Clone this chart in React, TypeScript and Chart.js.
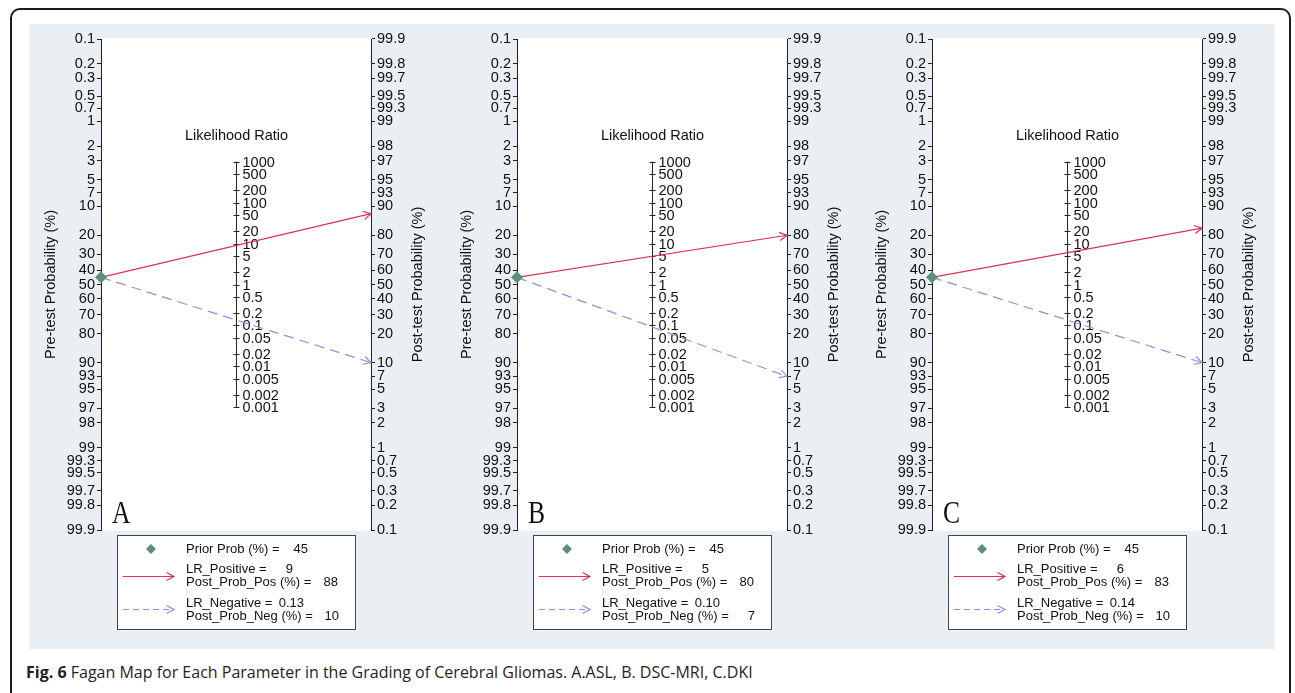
import React, { useEffect, useRef } from "react";
import { Chart, registerables } from "chart.js";

Chart.register(...registerables);

// ---------- data ----------
const panelLetters = ["A", "B", "C"];
const priorProb = [45, 45, 45];
const lrPositive = [9, 5, 6];
const lrPositiveText = ["9", "5", "6"];
const postProbPos = [88, 80, 83];
const lrNegative = [0.13, 0.1, 0.14];
const lrNegativeText = ["0.13", "0.10", "0.14"];
const postProbNeg = [10, 7, 10];

const probTickLabels = [
  "0.1", "0.2", "0.3", "0.5", "0.7", "1", "2", "3", "5", "7", "10", "20", "30", "40", "50",
  "60", "70", "80", "90", "93", "95", "97", "98", "99", "99.3", "99.5", "99.7", "99.8", "99.9",
];
const lrTickLabels = [
  "1000", "500", "200", "100", "50", "20", "10", "5", "2", "1", "0.5", "0.2", "0.1",
  "0.05", "0.02", "0.01", "0.005", "0.002", "0.001",
];

// ---------- style ----------
const FONT = "'Liberation Sans', Arial, Helvetica, sans-serif";
const TXT = "#111111";
const AXC = "#222222";
const RED = "#dd3159";
const BLUE = "#8e8ee8";
const DIAMOND = "#5f8c7d";
const BG = "#e9eff2";

const AXIS_X = [101, 517, 932];
const PLOT_W = 270;
const LEFT_W = 75;
const RIGHT_W = 70;
const CANVAS_W = LEFT_W + PLOT_W + RIGHT_W;
const CANVAS_TOP = 24;
const CANVAS_H = 625;
const FS = 14.5;

const LIM = Math.log(999); // log-odds of 99.9 %
const logOdds = (pct: number) => Math.log(pct / (100 - pct));

function drawArrowHead(ctx: CanvasRenderingContext2D, x0: number, y0: number, x1: number, y1: number, color: string) {
  const a = Math.atan2(y1 - y0, x1 - x0);
  const len = 8.5;
  const spread = 0.5;
  ctx.save();
  ctx.setLineDash([]);
  ctx.strokeStyle = color;
  ctx.lineWidth = 1.2;
  ctx.beginPath();
  ctx.moveTo(x1 - len * Math.cos(a - spread), y1 - len * Math.sin(a - spread));
  ctx.lineTo(x1, y1);
  ctx.lineTo(x1 - len * Math.cos(a + spread), y1 - len * Math.sin(a + spread));
  ctx.stroke();
  ctx.restore();
}

function makePlugin(i: number) {
  return {
    id: "fagan" + i,
    beforeDraw(chart: any) {
      const { ctx, chartArea: ca } = chart;
      ctx.save();
      ctx.fillStyle = "#ffffff";
      ctx.fillRect(ca.left, ca.top - 1, ca.right - ca.left, ca.bottom - ca.top + 2);
      ctx.restore();
    },
    beforeDatasetsDraw(chart: any) {
      const { ctx } = chart;
      const xs = chart.scales.x;
      const ys = chart.scales.y;
      const mx = Math.round(xs.getPixelForValue(0.5)) + 0.5;
      const vals = lrTickLabels.map((t) => Math.log(Number(t)) / 2);
      const yTop = ys.getPixelForValue(vals[0]);
      const yBot = ys.getPixelForValue(vals[vals.length - 1]);
      ctx.save();
      ctx.strokeStyle = AXC;
      ctx.lineWidth = 1;
      ctx.beginPath();
      ctx.moveTo(mx, yTop);
      ctx.lineTo(mx, yBot);
      ctx.stroke();
      ctx.fillStyle = TXT;
      ctx.font = `${FS}px ${FONT}`;
      ctx.textAlign = "left";
      ctx.textBaseline = "middle";
      lrTickLabels.forEach((t, k) => {
        const y = Math.round(ys.getPixelForValue(vals[k])) + 0.5;
        ctx.beginPath();
        ctx.moveTo(mx - 3, y);
        ctx.lineTo(mx + 3, y);
        ctx.stroke();
        ctx.fillText(t, mx + 6, y);
      });
      ctx.textAlign = "center";
      ctx.fillText("Likelihood Ratio", mx, yTop - 26);
      ctx.restore();
    },
    afterDatasetsDraw(chart: any) {
      const { ctx } = chart;
      chart.data.datasets.forEach((ds: any, k: number) => {
        if (!ds.arrow) return;
        const pts = chart.getDatasetMeta(k).data;
        const p0 = pts[0];
        const p1 = pts[pts.length - 1];
        drawArrowHead(ctx, p0.x, p0.y, p1.x, p1.y, ds.borderColor);
      });
    },
    afterDraw(chart: any) {
      const { ctx, chartArea: ca } = chart;
      ctx.save();
      // right axis title
      ctx.fillStyle = TXT;
      ctx.font = `${FS}px ${FONT}`;
      ctx.textAlign = "center";
      ctx.textBaseline = "middle";
      ctx.translate(ca.right + 47, (ca.top + ca.bottom) / 2);
      ctx.rotate(-Math.PI / 2);
      ctx.fillText("Post-test Probability (%)", 0, 0);
      ctx.restore();

      // panel letter
      ctx.save();
      ctx.fillStyle = "#111";
      ctx.font = `32px 'Liberation Serif', 'Times New Roman', serif`;
      ctx.textAlign = "left";
      ctx.textBaseline = "alphabetic";
      ctx.translate(ca.left + 11, ca.bottom - 7);
      ctx.scale(0.8, 1);
      ctx.fillText(panelLetters[i], 0, 0);
      ctx.restore();

      // legend box
      const bx = Math.round(ca.left + 16);
      const by = Math.round(ca.bottom + 5);
      const bw = 238;
      const bh = 94;
      ctx.save();
      ctx.fillStyle = "#ffffff";
      ctx.fillRect(bx, by, bw, bh);
      ctx.strokeStyle = "#444";
      ctx.lineWidth = 1;
      ctx.strokeRect(bx + 0.5, by + 0.5, bw, bh);

      // diamond
      const dx = bx + 34;
      const dy = by + 14;
      const r = 5;
      ctx.fillStyle = DIAMOND;
      ctx.beginPath();
      ctx.moveTo(dx, dy - r);
      ctx.lineTo(dx + r, dy);
      ctx.lineTo(dx, dy + r);
      ctx.lineTo(dx - r, dy);
      ctx.closePath();
      ctx.fill();

      // red line
      const lx0 = bx + 6;
      const lx1 = bx + 57;
      ctx.strokeStyle = RED;
      ctx.lineWidth = 1.2;
      ctx.beginPath();
      ctx.moveTo(lx0, by + 41.5);
      ctx.lineTo(lx1, by + 41.5);
      ctx.stroke();
      drawArrowHead(ctx, lx0, by + 41.5, lx1, by + 41.5, RED);

      // blue dashed line
      ctx.strokeStyle = BLUE;
      ctx.setLineDash([6, 4]);
      ctx.beginPath();
      ctx.moveTo(lx0, by + 74.5);
      ctx.lineTo(lx1, by + 74.5);
      ctx.stroke();
      ctx.setLineDash([]);
      drawArrowHead(ctx, lx0, by + 74.5, lx1, by + 74.5, BLUE);

      // texts
      const tx = bx + 69;
      ctx.fillStyle = TXT;
      ctx.font = `13px ${FONT}`;
      ctx.textBaseline = "middle";
      const rows: [string, string, number, number][] = [
        ["Prior Prob (%) =", String(priorProb[i]), 14, 122],
        ["LR_Positive =", lrPositiveText[i], 34, 107],
        ["Post_Prob_Pos (%) =", String(postProbPos[i]), 47, 152],
        ["LR_Negative =", lrNegativeText[i], 68, 118],
        ["Post_Prob_Neg (%) =", String(postProbNeg[i]), 81, 153],
      ];
      rows.forEach(([label, value, oy, vx]) => {
        ctx.textAlign = "left";
        ctx.fillText(label, tx, by + oy);
        ctx.textAlign = "right";
        ctx.fillText(value, tx + vx, by + oy);
      });
      ctx.restore();
    },
  };
}

function makeConfig(i: number): any {
  const pre = -logOdds(priorProb[i]);
  const tickFont = { family: FONT, size: FS };
  const axisCommon = {
    type: "linear",
    min: -LIM,
    max: LIM,
    grid: { drawOnChartArea: false, drawTicks: true, tickLength: 4, color: AXC, lineWidth: 1 },
    border: { display: true, color: AXC, width: 1 },
  };
  return {
    type: "line",
    data: {
      datasets: [
        {
          label: "Prior Prob",
          data: [{ x: 0, y: pre }],
          showLine: false,
          pointStyle: "rectRot",
          pointRadius: 6,
          pointBackgroundColor: DIAMOND,
          pointBorderColor: DIAMOND,
          pointBorderWidth: 0,
          clip: false,
        },
        {
          label: "LR_Positive " + lrPositive[i],
          data: [
            { x: 0, y: pre },
            { x: 1, y: logOdds(postProbPos[i]) },
          ],
          borderColor: RED,
          borderWidth: 1.2,
          pointRadius: 0,
          arrow: true,
          clip: false,
        },
        {
          label: "LR_Negative " + lrNegative[i],
          data: [
            { x: 0, y: pre },
            { x: 1, y: logOdds(postProbNeg[i]) },
          ],
          borderColor: BLUE,
          borderWidth: 1.2,
          borderDash: [10, 6],
          pointRadius: 0,
          arrow: true,
          clip: false,
        },
      ],
    },
    options: {
      responsive: false,
      maintainAspectRatio: false,
      animation: false,
      devicePixelRatio: 1,
      events: [],
      layout: { padding: { top: 15, bottom: 119, left: 0, right: 0 } },
      plugins: { legend: { display: false }, tooltip: { enabled: false }, title: { display: false } },
      scales: {
        x: { type: "linear", min: 0, max: 1, display: false },
        y: {
          ...axisCommon,
          position: "left",
          afterBuildTicks: (s: any) => {
            s.ticks = probTickLabels.map((t) => ({ value: -logOdds(Number(t)) }));
          },
          afterFit: (s: any) => {
            s.width = LEFT_W;
          },
          ticks: {
            autoSkip: false,
            padding: 2,
            color: TXT,
            font: tickFont,
            callback: (_v: any, idx: number) => probTickLabels[idx],
          },
          title: {
            display: true,
            text: "Pre-test Probability (%)",
            color: TXT,
            font: tickFont,
            padding: { top: 16.3, bottom: 0 },
          },
        },
        y2: {
          ...axisCommon,
          position: "right",
          afterBuildTicks: (s: any) => {
            s.ticks = probTickLabels.map((t) => ({ value: logOdds(Number(t)) }));
          },
          afterFit: (s: any) => {
            s.width = RIGHT_W;
          },
          ticks: {
            autoSkip: false,
            padding: 2,
            color: TXT,
            font: tickFont,
            callback: (_v: any, idx: number) => probTickLabels[idx],
          },
        },
      },
    },
    plugins: [makePlugin(i)],
  };
}

function Panel({ index }: { index: number }) {
  const ref = useRef<HTMLCanvasElement>(null);
  useEffect(() => {
    if (!ref.current) return;
    const chart = new Chart(ref.current, makeConfig(index));
    return () => chart.destroy();
  }, [index]);
  return (
    <canvas
      ref={ref}
      width={CANVAS_W}
      height={CANVAS_H}
      style={{
        position: "absolute",
        left: AXIS_X[index] - LEFT_W,
        top: CANVAS_TOP,
        width: CANVAS_W,
        height: CANVAS_H,
        display: "block",
      }}
    />
  );
}

export default function App() {
  return (
    <div
      style={{
        position: "absolute",
        left: 0,
        top: 0,
        width: 1295,
        height: 693,
        overflow: "hidden",
        background: "#ffffff",
      }}
    >
      <div
        style={{
          position: "absolute",
          left: 10,
          top: 8,
          width: 1277,
          height: 700,
          border: "2px solid #1c1c1c",
          borderRadius: 10,
        }}
      />
      <div
        style={{
          position: "absolute",
          left: 29,
          top: 24,
          width: 1246,
          height: 625,
          background: BG,
        }}
      />
      {panelLetters.map((_, k) => (
        <Panel key={k} index={k} />
      ))}
      <div
        style={{
          position: "absolute",
          left: 26,
          top: 662,
          fontFamily: "'Open Sans', 'Noto Sans', sans-serif",
          fontSize: 16,
          lineHeight: "21px",
          color: "#231f20",
          whiteSpace: "nowrap",
        }}
      >
        <b>Fig. 6</b> Fagan Map for Each Parameter in the Grading of Cerebral Gliomas. A.ASL, B. DSC-MRI, C.DKI
      </div>
    </div>
  );
}
